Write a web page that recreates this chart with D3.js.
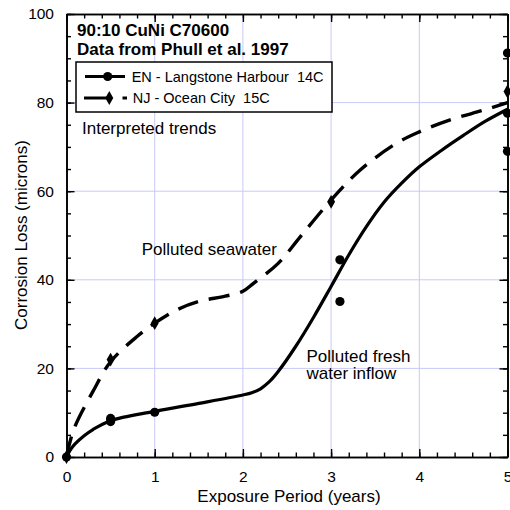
<!DOCTYPE html>
<html><head><meta charset="utf-8">
<script src="https://cdn.jsdelivr.net/npm/d3@7"></script>
<style>
body{margin:0;background:#fff;}
svg{display:block;font-family:"Liberation Sans",Arial,Helvetica,sans-serif;}
text{white-space:pre;}
</style></head><body>
<svg id="c" width="510" height="510"></svg>
<script>
// ---- data ----
const enX = [0, 0.5, 0.5, 1, 3.1, 3.1, 5, 5, 5];
const enY = [0, 8.0, 8.7, 10.1, 44.5, 35.1, 91.2, 77.6, 69.0];
const njX = [0, 0.5, 1, 3, 5];
const njY = [0, 22.0, 30.2, 57.6, 82.5];
// interpreted trends
const enTrendX = [0, 0.05, 0.1, 0.2, 0.3, 0.5, 1, 1.5, 2, 2.1, 2.2, 2.3, 2.4, 2.6, 2.8, 3, 3.2, 3.4, 3.6, 3.8, 4, 4.25, 4.5, 4.75, 5];
const enTrendY = [0, 1.8, 3.0, 4.8, 6.2, 8.2, 10.3, 12.1, 14.0, 14.5, 15.4, 17.0, 19.3, 25.0, 31.5, 38.5, 45.6, 52.0, 57.5, 61.8, 65.5, 69.2, 72.6, 75.8, 78.5];
const njTrendX = [0, 0.08, 0.3, 0.5, 0.8, 1, 1.25, 1.5, 1.8, 2, 2.12, 2.4, 2.65, 3, 3.33, 3.74, 4, 4.35, 4.73, 5];
const njTrendY = [0, 6.1, 14.8, 21.5, 27.2, 30.2, 33.2, 35.1, 36.3, 37.4, 39.2, 43.7, 49.7, 58, 64.8, 70.8, 73.4, 76.1, 78.3, 80];
const xTicks = [0, 1, 2, 3, 4, 5];
const yTicks = [0, 20, 40, 60, 80, 100];
const xMinor = d3.range(0, 5.0001, 0.2);
const yMinor = d3.range(0, 100.001, 5);
const xGrid = [1, 2, 3, 4];
const yGrid = [20, 40, 60, 80];
const titleLines = ["90:10 CuNi C70600", "Data from Phull et al. 1997"];
const legendLabels = ["EN - Langstone Harbour  14C", "NJ - Ocean City  15C"];

// ---- layout ----
const svg = d3.select("#c");
const x = d3.scaleLinear().domain([0, 5]).range([66.5, 507.5]);
const y = d3.scaleLinear().domain([0, 100]).range([457, 14]);
const gridColor = "#c9c9f7";

// grid
svg.append("g").selectAll("line").data(xGrid).join("line")
  .attr("x1", d => x(d)).attr("x2", d => x(d)).attr("y1", y(0)).attr("y2", y(100))
  .attr("stroke", gridColor).attr("stroke-width", 1);
svg.append("g").selectAll("line").data(yGrid).join("line")
  .attr("y1", d => y(d)).attr("y2", d => y(d)).attr("x1", x(0)).attr("x2", x(5))
  .attr("stroke", gridColor).attr("stroke-width", 1);

function styleAxis(g){
  g.selectAll("path").attr("stroke","#000").attr("stroke-width",1.6);
  g.selectAll("line").attr("stroke","#000").attr("stroke-width",1.4);
  g.selectAll("text").attr("fill","#000").attr("font-size","15.5px").attr("font-family",null);
}
// major axes
svg.append("g").attr("transform",`translate(0,${y(0)})`)
  .call(d3.axisBottom(x).tickValues(xTicks).tickFormat(d3.format("d")).tickSizeInner(-8).tickSizeOuter(0).tickPadding(14))
  .call(styleAxis);
svg.append("g").attr("transform",`translate(${x(0)},0)`)
  .call(d3.axisLeft(y).tickValues(yTicks).tickFormat(d3.format("d")).tickSizeInner(-8).tickSizeOuter(0).tickPadding(12.5))
  .call(styleAxis);
svg.append("g").attr("transform",`translate(0,${y(100)})`)
  .call(d3.axisTop(x).tickValues(xTicks).tickFormat("").tickSizeInner(-8).tickSizeOuter(0))
  .call(styleAxis);
svg.append("g").attr("transform",`translate(${x(5)},0)`)
  .call(d3.axisRight(y).tickValues(yTicks).tickFormat("").tickSizeInner(-8).tickSizeOuter(0))
  .call(styleAxis);
// minor ticks
[[d3.axisBottom(x).tickValues(xMinor), `translate(0,${y(0)})`],
 [d3.axisTop(x).tickValues(xMinor), `translate(0,${y(100)})`],
 [d3.axisLeft(y).tickValues(yMinor), `translate(${x(0)},0)`],
 [d3.axisRight(y).tickValues(yMinor), `translate(${x(5)},0)`]].forEach(([ax,t])=>{
  svg.append("g").attr("transform",t)
    .call(ax.tickFormat("").tickSizeInner(-4.5).tickSizeOuter(0))
    .call(styleAxis);
});

// axis titles
svg.append("text").attr("x", 289).attr("y", 501.5).attr("text-anchor","middle")
  .attr("font-size","17px").text("Exposure Period (years)");
svg.append("text").attr("transform","translate(27,235) rotate(-90)").attr("text-anchor","middle")
  .attr("font-size","17px").text("Corrosion Loss (microns)");

// trend lines
const line = d3.line().x(d => x(d[0])).y(d => y(d[1])).curve(d3.curveCatmullRom.alpha(0.5));
svg.append("path").datum(enTrendX.map((v,i)=>[v,enTrendY[i]]))
  .attr("d", line).attr("fill","none").attr("stroke","#000").attr("stroke-width",3.2);
svg.append("path").datum(njTrendX.map((v,i)=>[v,njTrendY[i]]))
  .attr("d", line).attr("fill","none").attr("stroke","#000").attr("stroke-width",3.4)
  .attr("stroke-dasharray","21,11");

// markers
const diamond = d3.symbol().type(d3.symbolDiamond).size(55);
svg.append("g").selectAll("circle").data(enX.map((v,i)=>[v,enY[i]])).join("circle")
  .attr("cx", d=>x(d[0])).attr("cy", d=>y(d[1])).attr("r",4.6).attr("fill","#000");
svg.append("g").selectAll("path").data(njX.map((v,i)=>[v,njY[i]])).join("path")
  .attr("transform", d=>`translate(${x(d[0])},${y(d[1])})`).attr("d", diamond).attr("fill","#000");

// title
svg.append("g").selectAll("text").data(titleLines).join("text")
  .attr("x", 77).attr("y", (d,i)=> 35.7 + i*19.5)
  .attr("font-size","17px").attr("font-weight","bold").text(d=>d);

// legend
const lg = svg.append("g");
lg.append("rect").attr("x",76).attr("y",62).attr("width",256).attr("height",50)
  .attr("fill","#fff").attr("stroke","#000").attr("stroke-width",1.5);
lg.append("line").attr("x1",85).attr("x2",125).attr("y1",76.5).attr("y2",76.5)
  .attr("stroke","#000").attr("stroke-width",3);
lg.append("circle").attr("cx",107.7).attr("cy",76.5).attr("r",4.6).attr("fill","#000");
lg.append("line").attr("x1",84).attr("x2",108).attr("y1",98).attr("y2",98)
  .attr("stroke","#000").attr("stroke-width",3);
lg.append("line").attr("x1",122.5).attr("x2",127).attr("y1",98).attr("y2",98)
  .attr("stroke","#000").attr("stroke-width",3);
lg.append("path").attr("transform","translate(109.3,98)").attr("d",diamond).attr("fill","#000");
lg.selectAll("text.lab").data(legendLabels).join("text").attr("class","lab")
  .attr("x", (d,i)=> i===0 ? 131.7 : 132.7).attr("y",(d,i)=> 81.5 + i*21.5)
  .attr("font-size","14.5px").text(d=>d);

// annotations
svg.append("text").attr("x",82).attr("y",133.5).attr("font-size","17px").text("Interpreted trends");
svg.append("text").attr("x",141.7).attr("y",255).attr("font-size","17px").text("Polluted seawater");
svg.append("text").attr("x",306.5).attr("y",361.7).attr("font-size","17px").text("Polluted fresh");
svg.append("text").attr("x",306.5).attr("y",378.5).attr("font-size","17px").text("water inflow");
</script></body></html>
